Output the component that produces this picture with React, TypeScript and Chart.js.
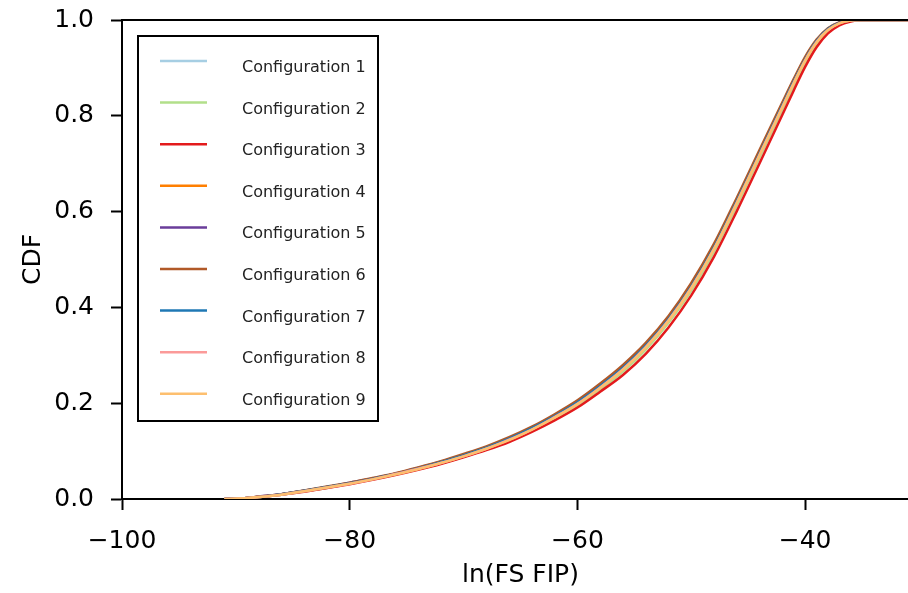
import React, { useEffect, useRef } from "react";
import { Chart, registerables } from "chart.js";

Chart.register(...registerables);

const xValues = [-91, -89, -88, -86, -84, -82, -80, -78, -76, -74, -72, -70, -68, -66, -64, -62, -60, -58, -56, -54, -52, -50, -48, -46, -44, -42, -41, -40, -39, -38, -37, -36, -35, -34, -30];

const config1 = [0.000, 0.002, 0.004, 0.009, 0.016, 0.024, 0.033, 0.042, 0.052, 0.063, 0.076, 0.090, 0.106, 0.125, 0.147, 0.172, 0.201, 0.235, 0.273, 0.319, 0.375, 0.443, 0.525, 0.621, 0.721, 0.821, 0.871, 0.917, 0.955, 0.980, 0.994, 0.999, 1.000, 1.000, 1.000];
const config2 = [0.000, 0.002, 0.004, 0.009, 0.016, 0.023, 0.032, 0.041, 0.051, 0.062, 0.074, 0.088, 0.104, 0.122, 0.143, 0.168, 0.196, 0.229, 0.266, 0.312, 0.368, 0.435, 0.517, 0.613, 0.713, 0.813, 0.863, 0.911, 0.950, 0.977, 0.992, 0.999, 1.000, 1.000, 1.000];
const config3 = [0.000, 0.002, 0.004, 0.009, 0.015, 0.023, 0.031, 0.040, 0.050, 0.061, 0.073, 0.087, 0.102, 0.119, 0.140, 0.164, 0.191, 0.224, 0.259, 0.303, 0.358, 0.425, 0.506, 0.601, 0.701, 0.802, 0.853, 0.902, 0.943, 0.972, 0.989, 0.997, 1.000, 1.000, 1.000];
const config4 = [0.000, 0.002, 0.004, 0.010, 0.017, 0.025, 0.033, 0.042, 0.053, 0.064, 0.077, 0.091, 0.108, 0.126, 0.148, 0.174, 0.203, 0.237, 0.275, 0.321, 0.377, 0.445, 0.527, 0.623, 0.723, 0.823, 0.873, 0.919, 0.956, 0.981, 0.994, 0.999, 1.000, 1.000, 1.000];
const config5 = [0.000, 0.002, 0.005, 0.010, 0.017, 0.025, 0.034, 0.043, 0.053, 0.065, 0.078, 0.092, 0.108, 0.127, 0.149, 0.175, 0.204, 0.239, 0.277, 0.323, 0.379, 0.447, 0.529, 0.625, 0.725, 0.825, 0.874, 0.920, 0.957, 0.982, 0.995, 1.000, 1.000, 1.000, 1.000];
const config6 = [0.000, 0.002, 0.005, 0.010, 0.018, 0.026, 0.034, 0.044, 0.054, 0.066, 0.079, 0.094, 0.110, 0.129, 0.151, 0.177, 0.206, 0.241, 0.280, 0.326, 0.382, 0.451, 0.533, 0.629, 0.729, 0.828, 0.877, 0.923, 0.959, 0.983, 0.995, 1.000, 1.000, 1.000, 1.000];
const config7 = [0.000, 0.002, 0.004, 0.010, 0.017, 0.025, 0.033, 0.042, 0.052, 0.064, 0.077, 0.091, 0.107, 0.126, 0.148, 0.173, 0.202, 0.236, 0.274, 0.320, 0.376, 0.444, 0.526, 0.622, 0.722, 0.822, 0.872, 0.918, 0.956, 0.981, 0.994, 0.999, 1.000, 1.000, 1.000];
const config8 = [0.000, 0.002, 0.004, 0.009, 0.016, 0.024, 0.032, 0.041, 0.052, 0.063, 0.075, 0.089, 0.105, 0.124, 0.145, 0.171, 0.199, 0.233, 0.271, 0.317, 0.373, 0.441, 0.523, 0.619, 0.719, 0.819, 0.869, 0.916, 0.954, 0.979, 0.993, 0.999, 1.000, 1.000, 1.000];
const config9 = [0.000, 0.002, 0.004, 0.009, 0.016, 0.024, 0.032, 0.041, 0.051, 0.062, 0.075, 0.089, 0.105, 0.123, 0.145, 0.170, 0.198, 0.232, 0.270, 0.316, 0.372, 0.440, 0.522, 0.618, 0.718, 0.818, 0.868, 0.915, 0.953, 0.979, 0.993, 0.999, 1.000, 1.000, 1.000];

const seriesLabels = ["Configuration 1", "Configuration 2", "Configuration 3", "Configuration 4", "Configuration 5", "Configuration 6", "Configuration 7", "Configuration 8", "Configuration 9"];
const seriesColors = ["#a6cee3", "#b2df8a", "#e31a1c", "#ff7f00", "#6a3d9a", "#b15928", "#1f78b4", "#fb9a99", "#fdbf6f"];

const xTicks = [-100, -80, -60, -40];
const yTicks = [0, 0.2, 0.4, 0.6, 0.8, 1.0];
const xMin = -100;
const xMax = -30;

const FONT = "'DejaVu Sans', 'Liberation Sans', sans-serif";

function fmtX(v: number): string {
  return v < 0 ? "\u2212" + Math.abs(v) : String(v);
}

export default function App() {
  const ref = useRef<HTMLCanvasElement>(null);

  useEffect(() => {
    if (!ref.current) return;
    const series = [config1, config2, config3, config4, config5, config6, config7, config8, config9];

    const framePlugin = {
      id: "frameAndLegend",
      afterDatasetsDraw(chart: any) {
        const ctx = chart.ctx as CanvasRenderingContext2D;
        const { left, right, top, bottom } = chart.chartArea;
        ctx.save();
        ctx.strokeStyle = "#000";
        ctx.lineWidth = 2;
        ctx.beginPath();
        ctx.moveTo(left - 1, top);
        ctx.lineTo(right, top);
        ctx.lineTo(right, bottom);
        ctx.stroke();

        // legend box
        const lx = left + 16;
        const ly = top + 16;
        const lw = 240;
        const lh = 385;
        ctx.fillStyle = "#fff";
        ctx.fillRect(lx, ly, lw, lh);
        ctx.strokeStyle = "#000";
        ctx.lineWidth = 2;
        ctx.strokeRect(lx, ly, lw, lh);
        ctx.font = "16px " + FONT;
        ctx.textBaseline = "alphabetic";
        ctx.textAlign = "left";
        chart.data.datasets.forEach((ds: any, i: number) => {
          const y = ly + 25 + i * 41.6;
          ctx.strokeStyle = ds.borderColor;
          ctx.lineWidth = 2.5;
          ctx.beginPath();
          ctx.moveTo(lx + 22, y);
          ctx.lineTo(lx + 69, y);
          ctx.stroke();
          ctx.fillStyle = "#222";
          ctx.fillText(ds.label, lx + 104, y + 11);
        });
        ctx.restore();
      },
    };

    const chart = new Chart(ref.current, {
      type: "line",
      data: {
        datasets: series.map((ys, i) => ({
          label: seriesLabels[i],
          data: xValues.map((x, j) => ({ x, y: ys[j] })),
          borderColor: seriesColors[i],
          backgroundColor: seriesColors[i],
          borderWidth: 2.5,
          pointRadius: 0,
          fill: false,
          order: series.length - i,
          cubicInterpolationMode: "monotone" as const,
        })),
      },
      options: {
        animation: false,
        responsive: false,
        devicePixelRatio: 1,
        layout: { padding: { top: 20, right: 6, left: 0, bottom: 0 } },
        plugins: { legend: { display: false }, tooltip: { enabled: false } },
        scales: {
          x: {
            type: "linear",
            min: xMin,
            max: xMax,
            afterBuildTicks: (scale: any) => {
              scale.ticks = xTicks.map((v) => ({ value: v }));
            },
            afterFit: (scale: any) => {
              scale.height = 94;
              scale.paddingLeft = 0;
              scale.paddingRight = 0;
            },
            border: { display: true, color: "#000", width: 2 },
            grid: { display: true, drawOnChartArea: false, drawTicks: true, tickLength: 11, tickColor: "#000", tickWidth: 2 },
            ticks: {
              color: "#000",
              font: { family: FONT, size: 25 },
              padding: 16,
              maxRotation: 0,
              callback: (v: any) => fmtX(Number(v)),
            },
            title: {
              display: true,
              text: "ln(FS FIP)",
              color: "#000",
              font: { family: FONT, size: 25 },
              padding: { top: 0, bottom: 3 },
            },
          },
          y: {
            type: "linear",
            min: 0,
            max: 1,
            afterBuildTicks: (scale: any) => {
              scale.ticks = yTicks.map((v) => ({ value: v }));
            },
            afterFit: (scale: any) => {
              scale.width = 122;
              scale.paddingTop = 0;
              scale.paddingBottom = 0;
            },
            border: { display: true, color: "#000", width: 2 },
            grid: { display: true, drawOnChartArea: false, drawTicks: true, tickLength: 11, tickColor: "#000", tickWidth: 2 },
            ticks: {
              color: "#000",
              font: { family: FONT, size: 25 },
              padding: 17,
              callback: (v: any) => Number(v).toFixed(1),
            },
            title: {
              display: true,
              text: "CDF",
              color: "#000",
              font: { family: FONT, size: 25 },
              padding: { top: 18, bottom: 0 },
            },
          },
        },
      },
      plugins: [framePlugin],
    });
    return () => chart.destroy();
  }, []);

  return (
    <div style={{ position: "absolute", left: 0, top: 0, width: 908, height: 593, overflow: "hidden", background: "#fff" }}>
      <canvas ref={ref} width={925} height={593} style={{ display: "block" }} />
    </div>
  );
}
